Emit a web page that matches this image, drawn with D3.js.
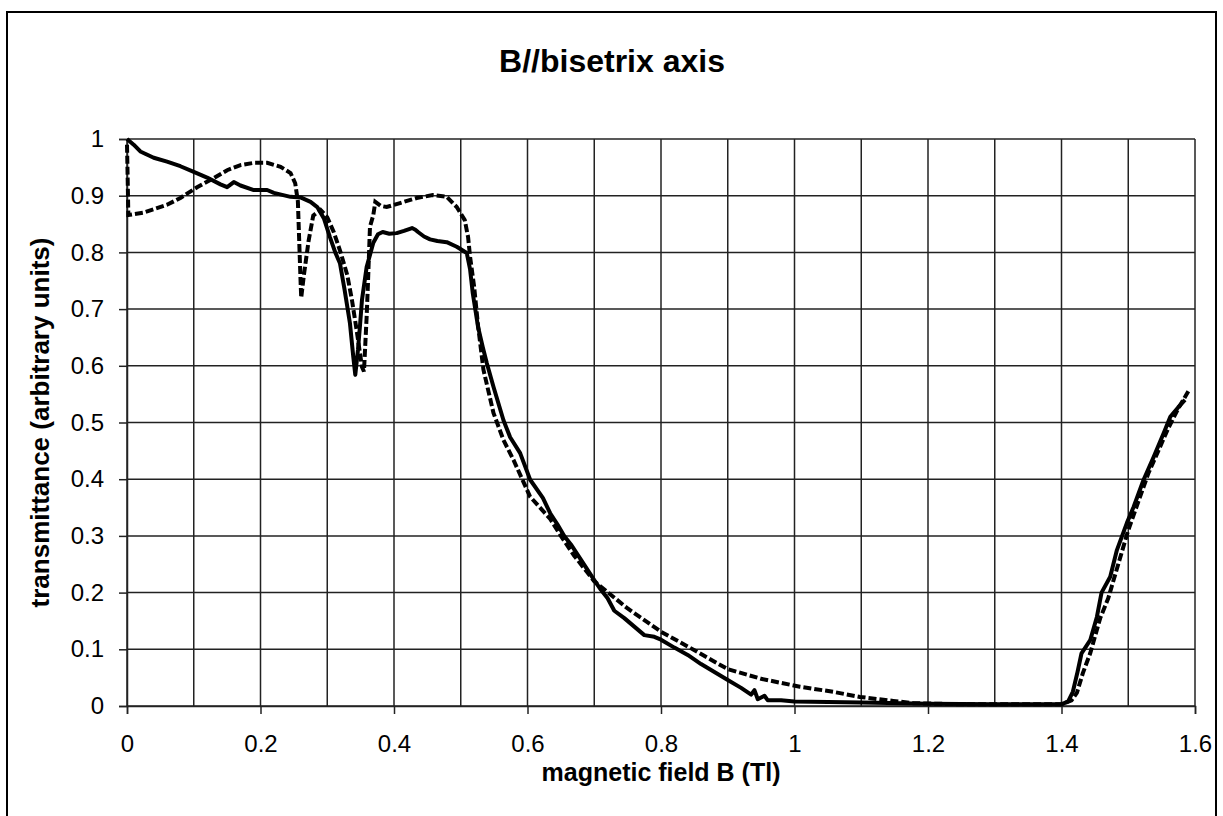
<!DOCTYPE html>
<html><head><meta charset="utf-8">
<script src="https://cdn.jsdelivr.net/npm/d3@7"></script>
<style>body{margin:0;background:#fff;} svg{display:block;font-family:"Liberation Sans",Arial,sans-serif;}</style>
</head><body>
<svg id="c" width="1223" height="816"></svg>
<script>
const title = "B//bisetrix axis";
const xTitle = "magnetic field B (Tl)";
const yTitle = "transmittance (arbitrary units)";
const xTicks = [0,0.2,0.4,0.6,0.8,1,1.2,1.4,1.6];
const xGrid = d3.range(0,17).map(i=>i/10);
const yTicks = d3.range(0,11).map(i=>i/10);

const solidB = [0,0.01,0.02,0.04,0.06,0.08,0.10,0.12,0.14,0.15,0.16,0.17,0.19,0.21,0.22,0.245,0.26,0.275,0.285,0.295,0.304,0.312,0.319,0.326,0.334,0.339,0.342,0.346,0.349,0.352,0.359,0.369,0.376,0.383,0.393,0.404,0.415,0.427,0.432,0.436,0.445,0.454,0.465,0.479,0.494,0.509,0.514,0.518,0.526,0.533,0.539,0.549,0.564,0.574,0.589,0.604,0.623,0.634,0.645,0.655,0.665,0.68,0.70,0.71,0.72,0.73,0.745,0.76,0.775,0.79,0.80,0.82,0.84,0.86,0.88,0.90,0.92,0.935,0.94,0.945,0.955,0.96,0.98,1.0,1.1,1.2,1.3,1.4,1.41,1.417,1.424,1.43,1.443,1.453,1.46,1.473,1.483,1.498,1.508,1.523,1.538,1.553,1.563,1.575,1.585];
const solidT = [1.0,0.99,0.978,0.967,0.96,0.952,0.942,0.932,0.92,0.915,0.924,0.918,0.91,0.91,0.905,0.898,0.897,0.889,0.88,0.86,0.827,0.80,0.781,0.734,0.675,0.616,0.584,0.628,0.67,0.716,0.774,0.817,0.832,0.836,0.833,0.834,0.838,0.843,0.84,0.836,0.828,0.823,0.82,0.818,0.81,0.799,0.77,0.728,0.668,0.633,0.605,0.563,0.504,0.474,0.446,0.399,0.367,0.34,0.32,0.30,0.285,0.258,0.222,0.205,0.19,0.168,0.155,0.14,0.125,0.122,0.117,0.103,0.09,0.074,0.06,0.046,0.032,0.02,0.028,0.012,0.018,0.01,0.01,0.008,0.006,0.004,0.003,0.003,0.008,0.025,0.06,0.093,0.116,0.157,0.2,0.228,0.275,0.323,0.351,0.399,0.439,0.481,0.51,0.527,0.54];

const dashB = [0,0.001,0.002,0.024,0.06,0.08,0.105,0.13,0.15,0.17,0.19,0.21,0.23,0.245,0.252,0.256,0.258,0.26,0.261,0.265,0.272,0.279,0.29,0.30,0.31,0.32,0.33,0.337,0.344,0.352,0.355,0.359,0.361,0.364,0.369,0.372,0.38,0.389,0.409,0.434,0.458,0.479,0.494,0.506,0.511,0.514,0.52,0.526,0.534,0.549,0.564,0.579,0.604,0.634,0.65,0.67,0.70,0.75,0.80,0.84,0.90,0.95,1.008,1.058,1.098,1.148,1.178,1.25,1.4,1.415,1.423,1.432,1.443,1.45,1.458,1.47,1.485,1.5,1.515,1.53,1.545,1.56,1.575,1.59];
const dashT = [0.99,0.93,0.866,0.87,0.884,0.896,0.915,0.931,0.945,0.954,0.958,0.958,0.951,0.94,0.922,0.89,0.82,0.75,0.72,0.76,0.82,0.865,0.875,0.862,0.835,0.80,0.76,0.716,0.663,0.598,0.59,0.686,0.746,0.845,0.866,0.889,0.882,0.88,0.887,0.896,0.901,0.898,0.88,0.857,0.827,0.792,0.74,0.67,0.593,0.517,0.469,0.434,0.369,0.33,0.30,0.265,0.22,0.172,0.131,0.105,0.065,0.048,0.034,0.025,0.016,0.009,0.005,0.003,0.003,0.01,0.023,0.058,0.093,0.122,0.155,0.19,0.25,0.31,0.36,0.41,0.45,0.49,0.525,0.555];

const svg = d3.select("#c");
const L=127,R=1195,T=139,B=706;
const x = d3.scaleLinear().domain([0,1.6]).range([L,R]);
const y = d3.scaleLinear().domain([0,1]).range([B,T]);

svg.append("rect").attr("x",7).attr("y",12).attr("width",1209).attr("height",830)
  .attr("fill","#fff").attr("stroke","#000").attr("stroke-width",2);

// grid
const g = svg.append("g");
g.selectAll(".vg").data(xGrid).join("line")
  .attr("x1",d=>x(d)).attr("x2",d=>x(d)).attr("y1",T).attr("y2",B)
  .attr("stroke","#222").attr("stroke-width",1.5);
g.selectAll(".hg").data(yTicks).join("line")
  .attr("x1",L).attr("x2",R).attr("y1",d=>y(d)).attr("y2",d=>y(d))
  .attr("stroke","#222").attr("stroke-width",1.5);

const fmt = d=>String(+d.toFixed(1));
const xa = svg.append("g").attr("transform",`translate(0,${B})`)
  .call(d3.axisBottom(x).tickValues(xTicks).tickSize(8).tickPadding(21).tickFormat(fmt));
const ya = svg.append("g").attr("transform",`translate(${L},0)`)
  .call(d3.axisLeft(y).tickValues(yTicks).tickSize(8).tickPadding(15).tickFormat(fmt));
[xa,ya].forEach(a=>{
  a.select(".domain").attr("stroke","#222").attr("stroke-width",1.5);
  a.selectAll(".tick line").attr("stroke","#222").attr("stroke-width",1.5);
  a.selectAll(".tick text").attr("fill","#000").style("font-size","24px").style("font-family","Liberation Sans, Arial, sans-serif");
});

const line = d3.line().x(d=>x(d[0])).y(d=>y(d[1]));
const solidData = solidB.map((b,i)=>[b,solidT[i]]);
const dashData = dashB.map((b,i)=>[b,dashT[i]]);
svg.append("path").datum(dashData).attr("d",line).attr("fill","none")
  .attr("stroke","#000").attr("stroke-width",4).attr("stroke-dasharray","8,3");
svg.append("path").datum(solidData).attr("d",line).attr("fill","none")
  .attr("stroke","#000").attr("stroke-width",4).attr("stroke-linejoin","round");

svg.append("text").attr("x",612).attr("y",72).attr("text-anchor","middle")
  .style("font-size","32px").style("font-weight","bold").text(title);
svg.append("text").attr("x",(L+R)/2).attr("y",781).attr("text-anchor","middle")
  .style("font-size","25px").style("font-weight","bold").text(xTitle);
svg.append("text").attr("transform",`translate(49,${(T+B)/2}) rotate(-90)`).attr("text-anchor","middle")
  .style("font-size","26px").style("font-weight","bold").text(yTitle);
</script>
</body></html>
